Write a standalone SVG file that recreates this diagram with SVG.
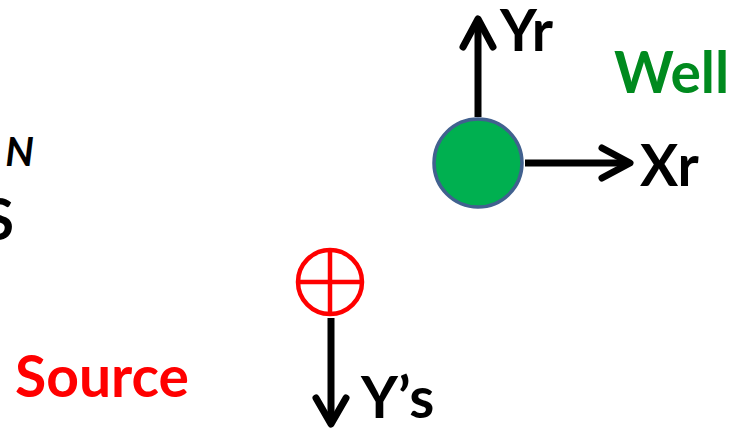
<svg xmlns="http://www.w3.org/2000/svg" width="733" height="429" viewBox="0 0 733 429">
<style>
.t{font-family:Lato,"Open Sans","Liberation Sans",sans-serif;font-weight:bold;font-size:57px;fill:#000}
.ax{stroke:#000;stroke-width:7;fill:none}
.hd{stroke:#000;stroke-width:7;fill:none;stroke-linecap:round;stroke-linejoin:round}
</style>
<rect width="733" height="429" fill="#fff"/>
<g id="well">
<circle cx="478" cy="163" r="44" fill="#00B050" stroke="#41618F" stroke-width="3.5"/>
<text class="t" x="614" y="93" style="fill:#008A1E">Well</text>
</g>
<g id="source">
<circle cx="330" cy="282" r="32" fill="none" stroke="#FF0000" stroke-width="4.5"/>
<line x1="298" y1="282" x2="362" y2="282" stroke="#FF0000" stroke-width="4.5"/>
<line x1="330" y1="250" x2="330" y2="314" stroke="#FF0000" stroke-width="4.5"/>
<text class="t" x="15" y="397" style="fill:#FF0000">Source</text>
</g>
<g id="connectors">
<line class="ax" x1="478" y1="117" x2="478" y2="20"/>
<polyline class="hd" points="463,47 478,19 493,47"/>
<line class="ax" x1="525" y1="163" x2="630" y2="163"/>
<polyline class="hd" points="602,148 630,163 602,178"/>
<line class="ax" x1="331" y1="318" x2="331" y2="424"/>
<polyline class="hd" points="316,398 331,424 346,398"/>
</g>
<g id="labels">
<text class="t" x="500" y="51">Yr</text>
<text class="t" x="640" y="186">Xr</text>
<text class="t" x="361" y="418">Y’s</text>
<text class="t" x="34" y="166" text-anchor="end" style="font-style:italic;font-size:40px">N</text>
<text class="t" x="14" y="240" text-anchor="end">S</text>
</g>
</svg>
